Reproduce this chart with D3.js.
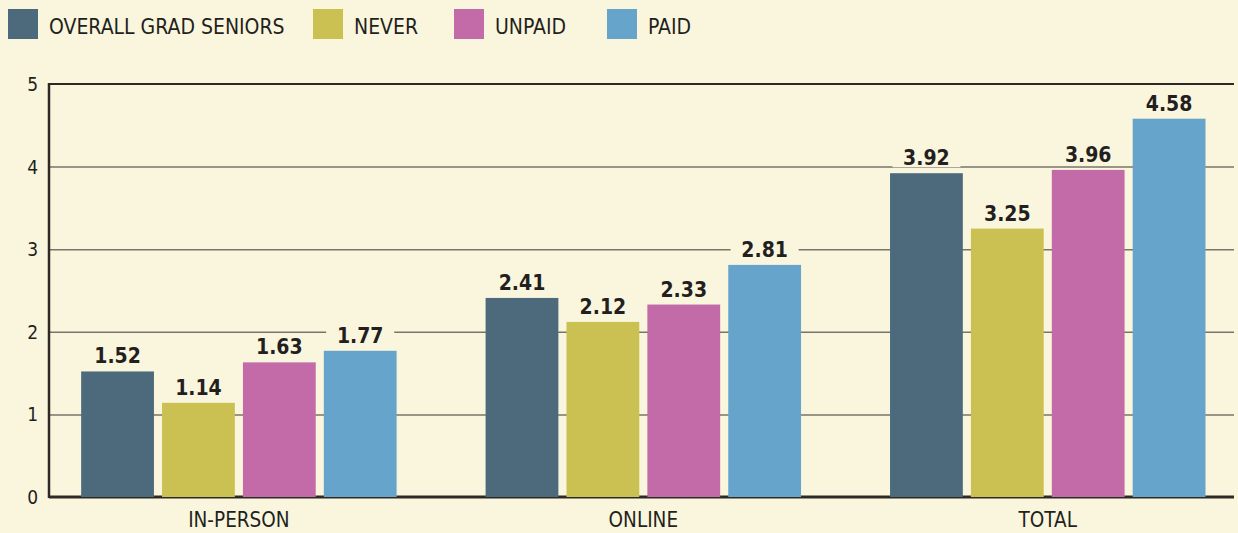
<html>
<head>
    <meta charset="UTF-8" />
    <script src="https://d3js.org/d3.v7.min.js"></script>
    <style>
        body { margin: 0; background: #faf6de; }
        text { font-family: "DejaVu Sans Condensed", "Roboto", sans-serif; fill: #231f20; }
        .gridlines line { stroke: #77756a; stroke-width: 1.5; }
        .gridlines .domain { stroke: none; }
    </style>
</head>
<body>
    <svg id="svg" width="1238" height="533"></svg>
    <script>
        const categories = ["IN-PERSON", "ONLINE", "TOTAL"];
        const seriesNames = ["OVERALL GRAD SENIORS", "NEVER", "UNPAID", "PAID"];
        const seriesColors = ["#4d6a7d", "#cbc052", "#c36aa8", "#67a4cb"];
        const overallValues = [1.52, 2.41, 3.92];
        const neverValues = [1.14, 2.12, 3.25];
        const unpaidValues = [1.63, 2.33, 3.96];
        const paidValues = [1.77, 2.81, 4.58];
        const yTicks = [0, 1, 2, 3, 4, 5];

        const seriesValues = [overallValues, neverValues, unpaidValues, paidValues];

        const svg = d3.select("svg#svg");
        svg.append("rect").attr("width", 1238).attr("height", 533).attr("fill", "#faf6de");

        const margin = {left: 49, right: 1234, top: 84, bottom: 497};

        const xGroup = d3.scaleBand().domain(categories).range([margin.left, margin.right])
            .paddingInner(0.22).paddingOuter(0.075).align(0.53);
        const xSeries = d3.scaleBand().domain(seriesNames).range([0, xGroup.bandwidth()])
            .paddingInner(0.1);
        const yScale = d3.scaleLinear().domain([0, 5]).range([margin.bottom, margin.top]);

        // gridlines
        svg.append("g").attr("class", "gridlines")
            .attr("transform", "translate(" + margin.left + ",0)")
            .call(d3.axisRight(yScale).tickValues(yTicks.slice(1, 5)).tickSize(margin.right - margin.left).tickFormat(""));
        svg.append("line").attr("x1", margin.left).attr("x2", margin.right)
            .attr("y1", yScale(5)).attr("y2", yScale(5))
            .attr("stroke", "#2d2a26").attr("stroke-width", 2);

        // tick labels
        svg.append("g").selectAll("text").data(yTicks).join("text")
            .attr("x", 38).attr("y", d => yScale(d) + 7)
            .attr("text-anchor", "end").attr("font-size", 19)
            .text(d => d);

        // axes lines
        svg.append("line").attr("x1", margin.left).attr("x2", margin.left)
            .attr("y1", margin.top - 1).attr("y2", margin.bottom + 1)
            .attr("stroke", "#2d2a26").attr("stroke-width", 2.5);
        svg.append("line").attr("x1", margin.left).attr("x2", margin.right)
            .attr("y1", margin.bottom).attr("y2", margin.bottom)
            .attr("stroke", "#2d2a26").attr("stroke-width", 3);

        // bars
        const table = [];
        categories.forEach((c, i) => {
            seriesNames.forEach((s, j) => {
                table.push({cat: c, series: s, color: seriesColors[j], value: seriesValues[j][i]});
            });
        });

        svg.append("g").selectAll("rect").data(table).join("rect")
            .attr("x", d => xGroup(d.cat) + xSeries(d.series))
            .attr("width", xSeries.bandwidth())
            .attr("y", d => yScale(d.value))
            .attr("height", d => yScale(0) - yScale(d.value))
            .attr("fill", d => d.color);

        // value labels with knockout background
        const labels = svg.append("g").selectAll("g").data(table).join("g")
            .attr("transform", d => "translate(" + (xGroup(d.cat) + xSeries(d.series) + xSeries.bandwidth() / 2) + "," + (yScale(d.value) - 8) + ")");
        labels.append("rect")
            .attr("x", -34).attr("y", -18).attr("width", 68).attr("height", 20)
            .attr("fill", "#faf6de");
        labels.append("text")
            .attr("text-anchor", "middle").attr("font-size", 21).attr("font-weight", "bold")
            .text(d => d.value.toFixed(2));

        // category labels
        svg.append("g").selectAll("text").data(categories).join("text")
            .attr("x", d => xGroup(d) + xGroup.bandwidth() / 2)
            .attr("y", 527).attr("text-anchor", "middle").attr("font-size", 20.5)
            .text(d => d);

        // legend
        const legendX = [8, 313, 454, 607];
        const legend = svg.append("g").selectAll("g").data(seriesNames).join("g")
            .attr("transform", (d, i) => "translate(" + legendX[i] + ",9)");
        legend.append("rect").attr("width", 30).attr("height", 30)
            .attr("fill", (d, i) => seriesColors[i]);
        legend.append("text").attr("x", 41).attr("y", 24.5).attr("font-size", 21)
            .text(d => d);
    </script>
</body>
</html>
